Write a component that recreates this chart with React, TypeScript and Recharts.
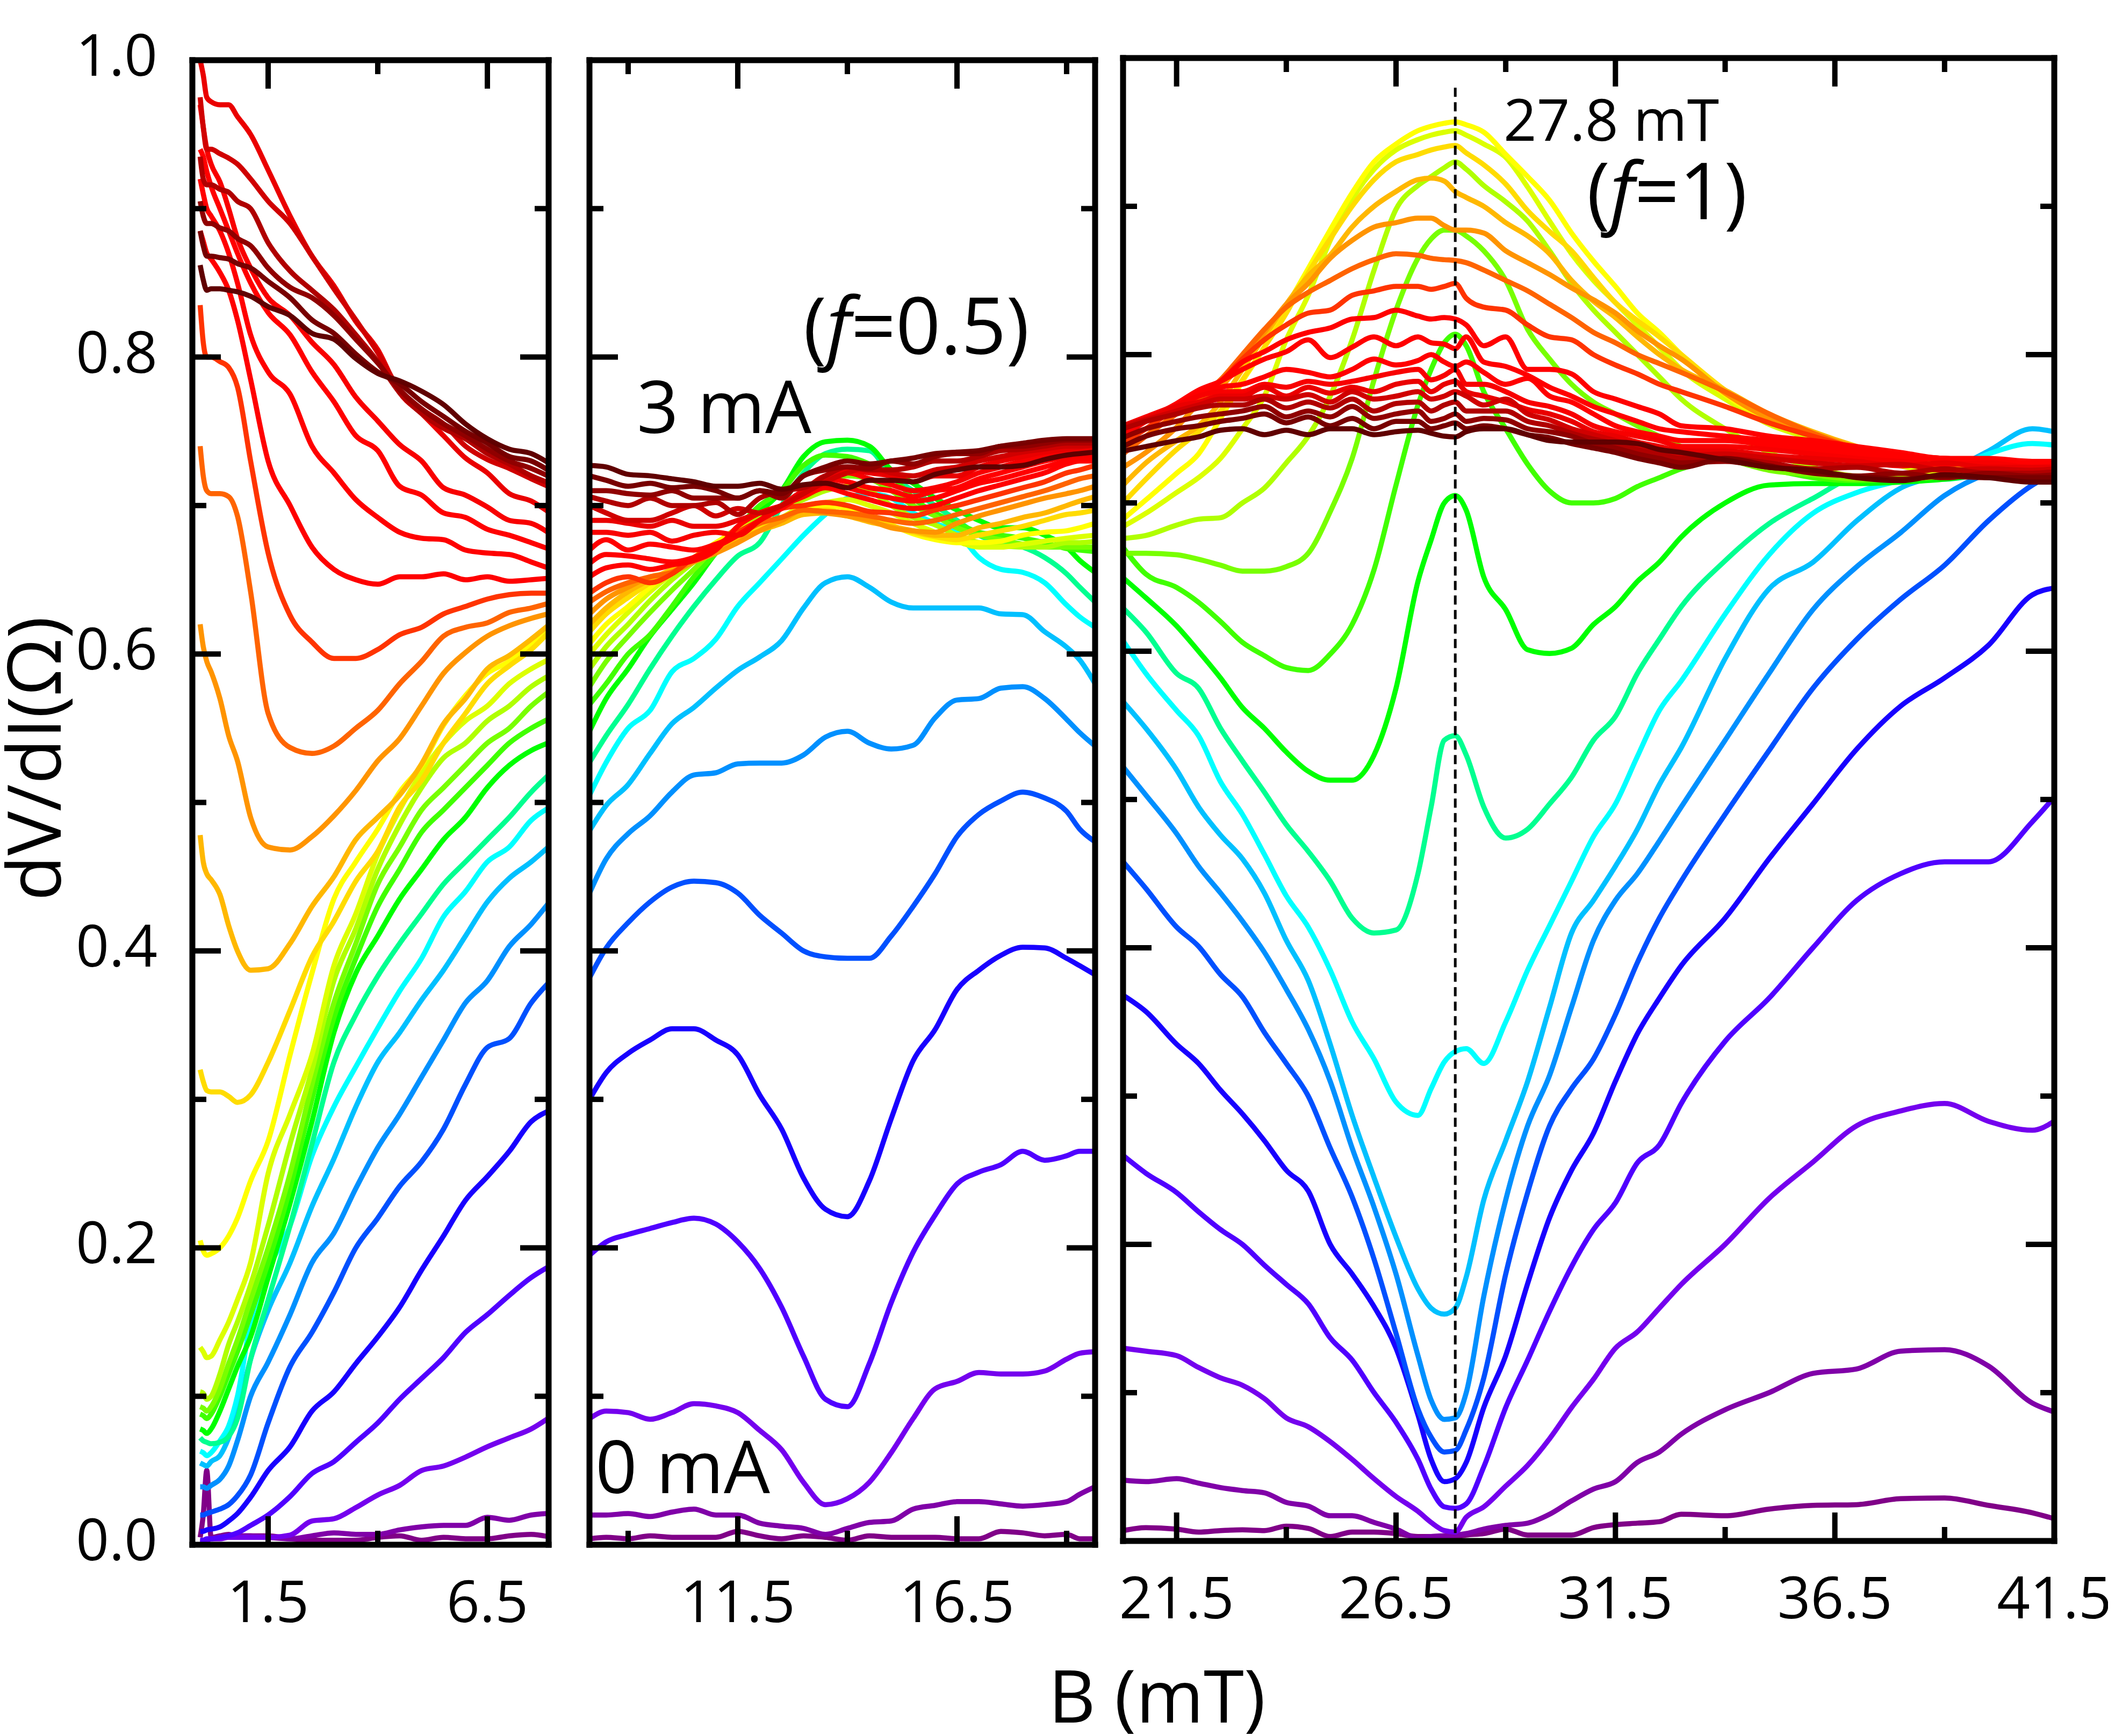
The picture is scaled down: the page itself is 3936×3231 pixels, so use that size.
import { Line, LineChart, ReferenceLine, XAxis, YAxis } from 'recharts';

// current steps 0 -> 3 mA
const colors = [
  '#800088', '#8000a8', '#7400ee', '#5000ff', '#1800ff', '#0050ff', '#0090ff', '#00c0ff', '#00ffff', '#00ff90', '#00ff00',
  '#40ff00', '#78ff00', '#b0ff00', '#dcff00', '#ffff00', '#ffdc00', '#ffb800', '#ff9400', '#ff6400', '#ff3400',
  '#ff0000', '#ff0000', '#ff0000', '#f80000', '#ea0000', '#d00000', '#b00000', '#900000', '#780000', '#600000',
];

const yTicks = [0, 0.1, 0.2, 0.3, 0.4, 0.5, 0.6, 0.7, 0.8, 0.9, 1];

// left panel, B < 8 mT
const leftB = [-0.05, 0.02, 0.1, 0.2, 0.4, 0.6, 0.8, 1.1, 1.5, 2, 2.5, 3, 3.5, 4, 4.5, 5, 5.5, 6, 6.5, 7, 7.5, 7.88];
const left0 = [.005,.02,.05,.005,.006,.007,.006,.006,.006,.004,.003,.003,.003,.005,.006,.003,.005,.004,.004,.006,.007,.0055];
const left1 = [.002,.002,.003,.004,.005,.006,.006,.006,.005,.004,.006,.008,.007,.007,.01,.012,.013,.013,.0185,.0165,.02,.021];
const left2 = [.002,.002,.003,.004,.004,.005,.005,.005,.005,.0065,.016,.0175,.025,.0335,.04,.05,.053,.059,.066,.072,.078,.085];
const left3 = [.003,.003,.004,.004,.005,.006,.008,.013,.02,.0325,.048,.056,.069,.082,.098,.112,.126,.143,.155,.168,.18,.187];
const left4 = [.009,.009,.01,.0105,.012,.016,.021,.032,.05,.066,.09,.103,.122,.14,.16,.185,.208,.232,.248,.265,.285,.292];
const left5 = [.02,.02,.021,.022,.024,.027,.033,.047,.082,.12,.143,.17,.2,.22,.2415,.258,.28,.31,.335,.341,.365,.378];
const left6 = [.039,.039,.038,.04,.044,.053,.07,.1,.123,.155,.19,.21,.24,.2675,.29,.315,.34,.365,.38,.403,.418,.4316];
const left7 = [.055,.054,.053,.056,.06,.072,.09,.125,.158,.19,.228,.26,.295,.325,.345,.367,.387,.41,.433,.449,.46,.4697];
const left8 = [.063,.062,.06,.062,.07,.08,.1,.15,.185,.215,.262,.295,.322,.348,.373,.395,.423,.44,.46,.47,.488,.496];
const left9 = [.072,.07,.069,.068,.069,.073,.085,.125,.165,.215,.27,.325,.357,.383,.405,.425,.445,.46,.475,.49,.507,.518];
const left10 = [.078,.077,.075,.078,.09,.105,.12,.14,.18,.23,.285,.345,.385,.41,.435,.455,.475,.49,.51,.525,.535,.54];
const left11 = [.088,.087,.085,.088,.1,.115,.13,.155,.19,.24,.3,.355,.395,.43,.455,.48,.495,.51,.525,.54,.55,.556];
const left12 = [.093,.092,.09,.093,.105,.122,.138,.165,.2,.25,.31,.365,.405,.445,.47,.495,.51,.525,.54,.55,.565,.574];
const left13 = [.103,.102,.098,.1,.115,.135,.15,.175,.215,.27,.32,.38,.415,.455,.485,.51,.53,.54,.555,.565,.578,.585];
const left14 = [.133,.13,.126,.127,.138,.15,.165,.19,.25,.29,.33,.39,.425,.465,.495,.52,.54,.555,.565,.58,.59,.596];
const left15 = [.205,.198,.195,.196,.2,.208,.22,.245,.272,.33,.385,.435,.46,.482,.507,.525,.552,.572,.587,.595,.607,.617];
const left16 = [.32,.312,.306,.305,.305,.302,.298,.303,.325,.36,.396,.42,.447,.467,.497,.515,.54,.56,.58,.592,.603,.614];
const left17 = [.478,.46,.452,.448,.438,.417,.4,.387,.388,.405,.43,.45,.475,.49,.505,.526,.553,.57,.59,.599,.61,.619];
const left18 = [.62,.605,.595,.588,.57,.545,.528,.49,.47,.468,.477,.491,.508,.528,.543,.565,.587,.601,.612,.619,.624,.627];
const left19 = [.74,.72,.71,.708,.708,.706,.693,.642,.56,.537,.533,.538,.55,.562,.58,.595,.612,.618,.621,.628,.631,.634];
const left20 = [.835,.81,.8,.8,.797,.793,.78,.73,.668,.626,.608,.597,.597,.603,.613,.618,.627,.632,.637,.64,.641,.641];
const left21 = [.885,.878,.87,.866,.857,.845,.825,.785,.73,.7,.672,.657,.65,.647,.652,.652,.654,.65,.652,.649,.65,.651];
const left22 = [.92,.91,.9,.895,.885,.87,.85,.815,.79,.775,.74,.722,.704,.692,.682,.678,.677,.67,.668,.667,.662,.658];
const left23 = [.94,.935,.925,.915,.9,.885,.87,.85,.83,.815,.79,.77,.747,.737,.713,.707,.695,.692,.684,.68,.675,.671];
const left24 = [.97,.955,.94,.93,.918,.9,.88,.86,.84,.828,.81,.795,.773,.757,.741,.73,.712,.707,.699,.69,.688,.682];
const left25 = [1,.99,.975,.972,.97,.97,.962,.95,.926,.895,.868,.848,.824,.805,.776,.762,.747,.732,.722,.708,.703,.696];
const left26 = [.975,.955,.94,.94,.937,.934,.93,.92,.905,.89,.868,.846,.825,.803,.778,.765,.755,.74,.731,.725,.718,.713];
const left27 = [.935,.92,.916,.916,.913,.911,.905,.9,.877,.858,.845,.832,.815,.797,.776,.762,.752,.745,.735,.728,.72,.7155];
const left28 = [.905,.895,.89,.89,.887,.885,.88,.875,.86,.847,.84,.828,.812,.796,.778,.765,.755,.747,.738,.73,.725,.72];
const left29 = [.885,.875,.868,.868,.867,.866,.863,.86,.851,.84,.825,.816,.802,.79,.782,.77,.76,.75,.742,.733,.73,.724];
const left30 = [.862,.852,.845,.846,.846,.845,.844,.841,.834,.828,.816,.812,.799,.789,.784,.777,.768,.755,.745,.738,.735,.729];
const leftCurves = [left0, left1, left2, left3, left4, left5, left6, left7, left8, left9, left10, left11, left12, left13, left14, left15, left16, left17, left18, left19, left20, left21, left22, left23, left24, left25, left26, left27, left28, left29, left30];

// middle panel, f = 0.5
const midB = [8.12, 8.5, 9, 9.5, 10, 10.5, 11, 11.5, 12, 12.5, 13, 13.5, 14, 14.5, 15, 15.5, 16, 16.5, 17, 17.5, 18, 18.5, 19, 19.3, 19.65];
const mid0 = [.004,.005,.004,.006,.005,.005,.005,.009,.006,.004,.006,.005,.003,.006,.005,.005,.005,.004,.004,.009,.008,.006,.007,.004,.004];
const mid1 = [.02,.02,.021,.019,.022,.024,.02,.02,.0145,.0125,.011,.007,.011,.015,.016,.024,.0265,.029,.029,.0275,.026,.027,.029,.034,.039];
const mid2 = [.085,.09,.089,.0845,.089,.095,.0935,.089,.077,.064,.042,.027,.031,.042,.062,.085,.105,.11,.116,.115,.115,.117,.125,.129,.13];
const mid3 = [.195,.204,.209,.213,.217,.22,.216,.204,.186,.16,.127,.098,.093,.122,.163,.197,.222,.243,.251,.256,.265,.259,.262,.265,.265];
const mid4 = [.3,.318,.331,.34,.3475,.3475,.34,.33,.303,.28,.247,.226,.221,.245,.287,.326,.347,.374,.387,.397,.4025,.402,.395,.39,.384];
const mid5 = [.382,.402,.419,.433,.443,.447,.446,.439,.424,.412,.4,.396,.395,.395,.41,.43,.452,.477,.492,.501,.507,.503,.494,.482,.4735];
const mid6 = [.439,.462,.479,.491,.507,.5185,.52,.526,.5265,.5265,.532,.544,.548,.54,.536,.5385,.557,.569,.57,.577,.578,.57,.556,.547,.538];
const mid7 = [.481,.498,.512,.533,.553,.564,.577,.589,.598,.609,.631,.648,.652,.645,.635,.631,.631,.631,.631,.627,.6265,.615,.6046,.596,.58];
const mid8 = [.505,.527,.55,.562,.588,.597,.61,.632,.648,.664,.68,.694,.705,.708,.705,.695,.688,.682,.665,.657,.655,.648,.633,.625,.618];
const mid9 = [.527,.545,.566,.59,.612,.632,.65,.666,.675,.7,.722,.735,.738,.737,.72,.71,.7,.69,.68,.675,.672,.665,.654,.645,.635];
const mid10 = [.548,.57,.59,.612,.63,.648,.668,.684,.696,.71,.733,.743,.744,.74,.724,.715,.705,.697,.69,.685,.685,.68,.672,.663,.655];
const mid11 = [.566,.58,.6,.613,.632,.652,.668,.685,.7,.71,.727,.734,.733,.728,.72,.705,.695,.688,.682,.68,.678,.675,.671,.67,.669];
const mid12 = [.578,.595,.612,.628,.643,.657,.672,.685,.695,.7,.71,.718,.72,.718,.71,.7,.693,.685,.68,.677,.674,.672,.672,.672,.672];
const mid13 = [.59,.605,.62,.636,.65,.662,.674,.685,.692,.698,.704,.71,.713,.71,.7,.692,.687,.68,.675,.673,.672,.672,.675,.675,.676];
const mid14 = [.6,.613,.628,.642,.654,.664,.674,.684,.689,.692,.7,.702,.704,.7,.695,.688,.682,.676,.672,.672,.674,.676,.678,.679,.68];
const mid15 = [.607,.62,.632,.645,.656,.665,.675,.683,.688,.692,.697,.7,.698,.693,.687,.681,.677,.675,.675,.676,.68,.682,.683,.685,.688];
const mid16 = [.615,.627,.638,.648,.657,.665,.673,.68,.686,.69,.695,.697,.694,.69,.686,.682,.679,.677,.68,.683,.686,.69,.694,.695,.697];
const mid17 = [.62,.631,.642,.65,.657,.663,.67,.677,.683,.688,.694,.695,.693,.689,.686,.683,.68,.68,.685,.688,.692,.695,.7,.703,.706];
const mid18 = [.627,.637,.645,.652,.655,.662,.668,.675,.683,.69,.697,.695,.693,.69,.685,.683,.682,.688,.693,.697,.701,.705,.708,.71,.713];
const mid19 = [.635,.642,.648,.652,.655,.665,.672,.68,.688,.692,.697,.696,.695,.693,.69,.688,.69,.694,.698,.702,.706,.71,.715,.718,.72];
const mid20 = [.641,.648,.652,.648,.654,.665,.673,.682,.69,.698,.7,.702,.7,.696,.695,.693,.697,.7,.704,.708,.712,.716,.722,.724,.727];
const mid21 = [.652,.658,.66,.657,.66,.663,.67,.686,.695,.7,.706,.712,.708,.704,.7,.698,.7,.705,.71,.714,.718,.722,.728,.73,.73];
const mid22 = [.661,.667,.666,.664,.662,.665,.672,.68,.69,.7,.71,.715,.712,.708,.705,.703,.705,.71,.715,.718,.722,.726,.73,.732,.733];
const mid23 = [.67,.677,.67,.674,.672,.67,.674,.68,.69,.698,.708,.718,.716,.712,.71,.706,.71,.712,.718,.722,.726,.73,.733,.735,.735];
const mid24 = [.682,.682,.68,.682,.676,.68,.682,.68,.69,.7,.71,.72,.722,.718,.714,.71,.712,.716,.722,.726,.73,.733,.735,.737,.738];
const mid25 = [.69,.69,.688,.686,.69,.686,.686,.69,.695,.7,.71,.718,.724,.722,.72,.716,.72,.72,.726,.73,.733,.736,.738,.739,.74];
const mid26 = [.7,.695,.69,.69,.695,.7,.693,.698,.695,.7,.708,.716,.722,.726,.722,.72,.724,.726,.73,.733,.736,.738,.74,.74,.741];
const mid27 = [.706,.703,.7,.705,.7,.7,.702,.694,.705,.71,.712,.72,.726,.724,.724,.726,.73,.73,.733,.737,.738,.74,.742,.742,.742];
const mid28 = [.71,.71,.708,.707,.71,.705,.705,.705,.71,.705,.72,.724,.726,.725,.73,.728,.733,.735,.735,.74,.74,.742,.744,.744,.744];
const mid29 = [.72,.717,.713,.715,.712,.713,.71,.705,.71,.708,.72,.726,.73,.728,.73,.732,.735,.736,.737,.74,.742,.744,.745,.745,.745];
const mid30 = [.727,.726,.721,.72,.718,.716,.713,.713,.715,.711,.714,.715,.712,.717,.717,.716,.721,.724,.726,.726,.727,.731,.734,.735,.736];
const midCurves = [mid0, mid1, mid2, mid3, mid4, mid5, mid6, mid7, mid8, mid9, mid10, mid11, mid12, mid13, mid14, mid15, mid16, mid17, mid18, mid19, mid20, mid21, mid22, mid23, mid24, mid25, mid26, mid27, mid28, mid29, mid30];

// right panel, f = 1
const rightB = [20.28, 20.8, 21.5, 22, 22.5, 23, 23.5, 24, 24.5, 25, 25.5, 26, 26.5, 27, 27.3, 27.6, 27.85, 28.1, 28.5, 29, 29.5, 30, 30.5, 31, 31.5, 32, 32.5, 33, 34, 35, 36, 37, 38, 39, 40, 41, 41.5];
const right0 = [.007,.009,.008,.006,.007,.0075,.007,.01,.0085,.003,.006,.006,.005,.003,.003,.003,.003,.004,.005,.008,.004,.004,.004,.009,.011,.012,.013,.018,.017,.0215,.024,.0245,.0285,.029,.024,.019,.015];
const right1 = [.041,.04,.042,.039,.036,.034,.0325,.026,.0235,.017,.017,.0125,.008,.002,.003,.0035,.004,.005,.008,.0105,.012,.018,.027,.035,.04,.053,.06,.072,.0885,.1,.113,.116,.128,.129,.118,.093,.087];
const right2 = [.13,.128,.125,.117,.11,.105,.096,.083,.077,.067,.055,.042,.03,.02,.0125,.007,.006,.016,.023,.037,.051,.069,.09,.109,.13,.141,.157,.173,.2,.231,.2555,.28,.29,.295,.283,.277,.283];
const right3 = [.26,.248,.235,.222,.21,.2,.186,.173,.16,.137,.122,.1,.08,.055,.035,.023,.022,.025,.05,.09,.122,.155,.185,.21,.228,.255,.267,.295,.337,.366,.4,.432,.45,.458,.458,.485,.5016];
const right4 = [.368,.357,.335,.322,.304,.288,.27,.25,.236,.2,.18,.158,.13,.085,.055,.04,.042,.053,.09,.125,.1736,.218,.25,.275,.31,.342,.366,.388,.42,.46,.497,.534,.563,.582,.604,.638,.6426];
const right5 = [.458,.44,.414,.401,.382,.367,.343,.322,.3,.265,.232,.19,.14,.089,.07,.06,.061,.075,.11,.18,.235,.28,.305,.325,.355,.39,.42,.445,.49,.533,.575,.608,.635,.658,.688,.712,.72];
const right6 = [.522,.503,.477,.455,.437,.418,.397,.372,.345,.31,.265,.225,.18,.125,.095,.082,.083,.1,.165,.23,.28,.314,.36,.405,.432,.45,.472,.495,.54,.585,.628,.657,.68,.705,.72,.727,.727];
const right7 = [.566,.548,.52,.495,.476,.46,.437,.405,.378,.335,.287,.245,.205,.17,.157,.153,.157,.178,.23,.27,.31,.36,.41,.432,.455,.48,.51,.535,.595,.642,.66,.688,.71,.72,.735,.75,.748];
const right8 = [.607,.585,.56,.543,.512,.49,.463,.435,.414,.385,.35,.325,.296,.287,.305,.323,.33,.332,.322,.35,.385,.415,.445,.475,.497,.529,.56,.58,.625,.665,.693,.707,.715,.72,.733,.74,.739];
const right9 = [.629,.613,.585,.575,.548,.526,.505,.483,.465,.445,.42,.41,.412,.45,.495,.54,.543,.53,.495,.474,.48,.497,.515,.54,.556,.585,.608,.63,.661,.686,.703,.717,.718,.716,.72,.722,.722];
const right10 = [.6495,.636,.617,.6,.582,.562,.548,.532,.519,.513,.513,.53,.575,.647,.675,.7,.705,.695,.65,.628,.601,.5985,.602,.618,.63,.647,.66,.677,.7,.712,.713,.713,.714,.716,.72,.722,.722];
const right11 = [.67,.652,.643,.633,.62,.606,.597,.589,.587,.598,.618,.655,.712,.766,.79,.808,.8138,.806,.775,.75,.726,.708,.7,.7,.703,.711,.717,.723,.729,.723,.717,.715,.716,.718,.722,.724,.724];
const right12 = [.666,.666,.665,.662,.658,.654,.654,.657,.666,.694,.73,.783,.83,.865,.878,.884,.884,.88,.87,.85,.817,.797,.78,.768,.76,.752,.745,.738,.73,.722,.719,.716,.716,.718,.722,.724,.724];
const right13 = [.676,.678,.685,.689,.69,.7,.71,.727,.745,.772,.81,.857,.898,.914,.92,.926,.93,.925,.914,.903,.89,.87,.848,.83,.815,.8,.785,.77,.75,.734,.724,.718,.717,.718,.722,.724,.724];
const right14 = [.684,.693,.707,.717,.73,.75,.772,.81,.84,.877,.905,.925,.938,.945,.948,.95,.951,.948,.942,.933,.913,.89,.868,.85,.835,.82,.805,.79,.77,.753,.743,.733,.725,.72,.722,.724,.724];
const right15 = [.689,.702,.72,.733,.757,.782,.805,.832,.858,.884,.909,.93,.942,.951,.954,.956,.957,.955,.95,.935,.92,.904,.882,.863,.846,.828,.815,.8,.773,.756,.747,.737,.728,.722,.722,.724,.724];
const right16 = [.7,.716,.736,.748,.762,.783,.805,.828,.855,.878,.9,.918,.93,.935,.938,.94,.941,.936,.928,.915,.897,.883,.87,.852,.835,.823,.812,.8,.776,.757,.747,.737,.73,.725,.722,.722,.722];
const right17 = [.712,.727,.742,.752,.768,.79,.812,.834,.853,.867,.886,.9,.91,.918,.919,.917,.91,.906,.9,.889,.88,.868,.85,.836,.825,.812,.8,.79,.776,.76,.748,.738,.73,.724,.722,.72,.72];
const right18 = [.724,.734,.751,.767,.778,.795,.815,.834,.848,.865,.877,.886,.889,.892,.892,.887,.884,.884,.882,.87,.862,.854,.845,.837,.828,.816,.806,.797,.774,.757,.747,.737,.728,.724,.72,.718,.718];
const right19 = [.733,.745,.76,.77,.783,.8,.817,.832,.842,.85,.858,.864,.868,.867,.865,.864,.8635,.862,.857,.85,.843,.834,.825,.815,.808,.8,.794,.788,.775,.76,.747,.736,.727,.722,.718,.716,.716];
const right20 = [.74,.75,.764,.772,.782,.797,.81,.82,.828,.83,.84,.843,.846,.846,.844,.846,.848,.838,.832,.83,.82,.812,.81,.8,.793,.787,.78,.775,.765,.754,.745,.737,.732,.73,.729,.728,.728];
const right21 = [.745,.755,.766,.775,.782,.795,.802,.81,.815,.818,.824,.825,.83,.826,.824,.825,.824,.82,.806,.812,.79,.79,.787,.775,.77,.765,.76,.752,.75,.745,.742,.738,.734,.73,.73,.728,.728];
const right22 = [.748,.756,.767,.776,.782,.79,.797,.802,.81,.798,.805,.812,.806,.812,.808,.807,.804,.812,.795,.792,.786,.778,.772,.765,.76,.755,.75,.748,.745,.742,.739,.735,.732,.73,.728,.726,.727];
const right23 = [.75,.756,.766,.772,.778,.78,.785,.79,.788,.785,.79,.797,.793,.796,.8,.795,.792,.795,.788,.78,.784,.772,.768,.76,.752,.748,.745,.742,.742,.739,.736,.733,.73,.73,.726,.725,.726];
const right24 = [.752,.758,.766,.772,.775,.775,.78,.778,.782,.78,.782,.785,.788,.79,.783,.786,.79,.78,.78,.775,.768,.765,.76,.752,.748,.745,.742,.738,.738,.736,.733,.73,.728,.726,.727,.724,.725];
const right25 = [.752,.757,.765,.768,.772,.772,.778,.772,.778,.774,.778,.775,.78,.782,.775,.78,.782,.775,.772,.768,.763,.76,.755,.748,.745,.741,.738,.735,.735,.732,.73,.728,.725,.727,.724,.724,.724];
const right26 = [.752,.756,.762,.766,.77,.77,.772,.77,.773,.768,.775,.77,.772,.775,.77,.772,.775,.772,.766,.77,.76,.756,.75,.746,.742,.738,.735,.732,.733,.73,.727,.725,.726,.722,.723,.722,.723];
const right27 = [.75,.755,.76,.764,.766,.766,.77,.764,.768,.764,.77,.762,.767,.768,.762,.766,.768,.762,.762,.762,.755,.752,.747,.743,.74,.736,.733,.73,.73,.727,.723,.724,.72,.723,.72,.72,.721];
const right28 = [.744,.75,.755,.758,.76,.762,.765,.758,.762,.758,.765,.757,.76,.762,.755,.757,.76,.755,.757,.756,.75,.748,.745,.74,.737,.733,.73,.727,.728,.724,.722,.718,.72,.717,.72,.718,.719];
const right29 = [.738,.745,.75,.752,.755,.757,.76,.754,.758,.752,.757,.75,.755,.755,.75,.752,.754,.75,.752,.75,.746,.744,.74,.737,.734,.73,.727,.724,.73,.725,.72,.718,.716,.718,.717,.717,.717];
const right30 = [.735,.738,.742,.7445,.749,.75,.746,.749,.746,.75,.75,.746,.748,.749,.747,.745,.7445,.748,.75,.75,.746,.742,.741,.741,.741,.74,.736,.734,.729,.724,.722,.717,.715,.719,.717,.714,.714];
const rightCurves = [right0, right1, right2, right3, right4, right5, right6, right7, right8, right9, right10, right11, right12, right13, right14, right15, right16, right17, right18, right19, right20, right21, right22, right23, right24, right25, right26, right27, right28, right29, right30];

const FONT = '"Open Sans", sans-serif';
const SPINE = 11;
const PAD = 100;
const BOTTOM = 210;

// inward tick, drawn from the axis own coordinate
function InTick({ x, y, payload, side, major, labelled, format }: any) {
  const len = major ? 53 : 26;
  const dx = side === 'left' ? len : side === 'right' ? -len : 0;
  const dy = side === 'top' ? len : side === 'bottom' ? -len : 0;
  return (
    <g>
      <line x1={x} y1={y} x2={x + dx} y2={y + dy} stroke="#000" strokeWidth={10} />
      {labelled && side === 'bottom' && (
        <text x={x} y={y + 144} textAnchor="middle" fontFamily={FONT} fontSize={108} fill="#000">
          {format(payload.value)}
        </text>
      )}
      {labelled && side === 'left' && (
        <text x={x - 65} y={y + 29} textAnchor="end" fontFamily={FONT} fontSize={108} fill="#000">
          {format(payload.value)}
        </text>
      )}
    </g>
  );
}

function Panel({ b, curves, domain, xTicks, xMajor, box, yLabels, children }: any) {
  const rows = b.map((v: number, i: number) => {
    const row: any = { b: v };
    curves.forEach((c: number[], j: number) => {
      row['i' + j] = c[i];
    });
    return row;
  });
  const leftW = yLabels ? 340 : PAD;
  const w = box.x2 - box.x1 + leftW + PAD;
  const h = box.y2 - box.y1 + PAD + BOTTOM;
  const axisLine = { stroke: '#000', strokeWidth: SPINE, strokeLinecap: 'square' as const };
  const xTick = (side: string) => (p: any) => (
    <InTick {...p} side={side} major={xMajor.includes(p.payload.value)} labelled={xMajor.includes(p.payload.value)} format={(v: number) => v.toFixed(1)} />
  );
  const yTick = (side: string) => (p: any) => {
    const major = Math.round(p.payload.value * 10) % 2 === 0;
    return <InTick {...p} side={side} major={major} labelled={major && yLabels} format={(v: number) => v.toFixed(1)} />;
  };
  return (
    <div style={{ position: 'absolute', left: box.x1 - leftW, top: box.y1 - PAD }}>
      <LineChart width={w} height={h} data={rows} margin={{ top: 0, right: 0, bottom: 0, left: 0 }}>
        <XAxis dataKey="b" type="number" domain={domain} ticks={xTicks} interval={0} height={BOTTOM} tickSize={0} tickMargin={0} axisLine={axisLine} tickLine={false} tick={xTick('bottom')} />
        <XAxis xAxisId="top" dataKey="b" type="number" orientation="top" domain={domain} ticks={xTicks} interval={0} height={PAD} tickSize={0} tickMargin={0} axisLine={axisLine} tickLine={false} tick={xTick('top')} />
        <YAxis type="number" domain={[0, 1]} ticks={yTicks} interval={0} width={leftW} tickSize={0} tickMargin={0} axisLine={axisLine} tickLine={false} tick={yTick('left')} />
        <YAxis yAxisId="right" type="number" orientation="right" domain={[0, 1]} ticks={yTicks} interval={0} width={PAD} tickSize={0} tickMargin={0} axisLine={axisLine} tickLine={false} tick={yTick('right')} />
        {/* the mirror axes only get a scale when a series is bound to them */}
        <Line xAxisId="top" yAxisId="right" dataKey="i0" stroke="none" dot={false} isAnimationActive={false} />
        {curves.map((_: number[], j: number) => (
          <Line key={j} dataKey={'i' + j} type="monotone" stroke={colors[j]} strokeWidth={9.5} dot={false} isAnimationActive={false} />
        ))}
        {children}
      </LineChart>
    </div>
  );
}

export default function App() {
  return (
    <div style={{ position: 'absolute', left: 0, top: 0, width: 3936, height: 3231, background: '#fff', overflow: 'hidden' }}>
      <Panel b={leftB} curves={leftCurves} domain={[-0.228, 7.897]} xTicks={[1.5, 4, 6.5]} xMajor={[1.5, 6.5]} box={{ x1: 358, x2: 1021, y1: 112, y2: 2875 }} yLabels />
      <Panel b={midB} curves={midCurves} domain={[8.118, 19.65]} xTicks={[9, 11.5, 14, 16.5, 19]} xMajor={[11.5, 16.5]} box={{ x1: 1097, x2: 2038, y1: 112, y2: 2875 }} />
      <Panel b={rightB} curves={rightCurves} domain={[20.28, 41.5]} xTicks={[21.5, 24, 26.5, 29, 31.5, 34, 36.5, 39, 41.5]} xMajor={[21.5, 26.5, 31.5, 36.5, 41.5]} box={{ x1: 2090, x2: 3823, y1: 108, y2: 2868 }}>
        <ReferenceLine segment={[{ x: 27.85, y: 0.98 }, { x: 27.85, y: 0 }]} stroke="#000" strokeWidth={5} strokeDasharray="17 10" />
      </Panel>
      <svg width={3936} height={3231} style={{ position: 'absolute', left: 0, top: 0, pointerEvents: 'none' }} fontFamily={FONT} fill="#000">
        <text transform="translate(113 1412) rotate(-90)" textAnchor="middle" fontSize={138}>dV/dI(Ω)</text>
        <text x={2153} y={3206} textAnchor="middle" fontSize={136}>B (mT)</text>
        <text x={1185} y={806} fontSize={136}>3 mA</text>
        <text x={1108} y={2779} fontSize={136}>0 mA</text>
        <text x={1495} y={659} fontSize={146}>(<tspan fontStyle="italic">f</tspan>=0.5)</text>
        <text x={2798} y={262} fontSize={108}>27.8 mT</text>
        <text x={2953} y={408} fontSize={146}>(<tspan fontStyle="italic">f</tspan>=1)</text>
      </svg>
    </div>
  );
}
